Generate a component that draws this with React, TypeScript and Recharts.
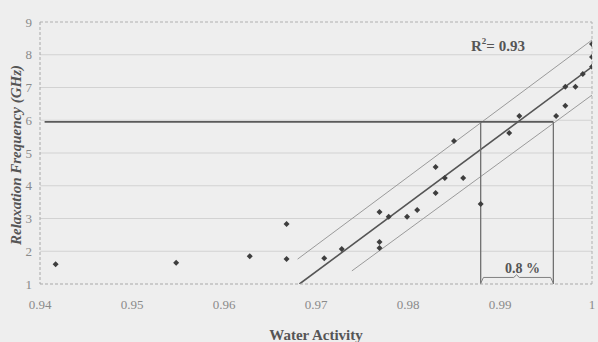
import React from "react";
import {
  ComposedChart,
  Line,
  Scatter,
  XAxis,
  YAxis,
  ReferenceLine,
} from "recharts";

// measured points (water activity vs relaxation frequency in GHz)
const waterActivity = [
  0.9417, 0.9548, 0.9628, 0.9668, 0.9668, 0.9709, 0.9728, 0.9769, 0.9779,
  0.9769, 0.9769, 0.9799, 0.981, 0.983, 0.983, 0.984, 0.986, 0.985, 0.9879,
  0.991, 0.9921, 0.9961, 0.9971, 0.9971, 0.9982, 0.999, 1.0, 1.0, 1.0,
];
const relaxationFreq = [
  1.6, 1.65, 1.85, 2.83, 1.76, 1.79, 2.07, 3.2, 3.05, 2.28, 2.1, 3.05, 3.26,
  3.78, 4.57, 4.24, 4.24, 5.37, 3.44, 5.61, 6.13, 6.13, 6.44, 7.02, 7.02, 7.41,
  7.63, 7.93, 8.33,
];

// regression line and its band
const fitX = [0.9682, 1.0];
const fitY = [1.0, 7.63];
const upperX = [0.968, 1.0];
const upperY = [1.76, 8.45];
const lowerX = [0.9739, 1.0];
const lowerY = [1.4, 6.77];

// 6 GHz threshold and the window it cuts out
const thresholdX = [0.9405, 0.9958];
const thresholdY = [5.95, 5.95];
const windowLeftX = [0.9879, 0.9879];
const windowRightX = [0.9958, 0.9958];
const windowY = [5.95, 1.0];

// brace under the window
const braceX = [0.9879, 0.9882, 0.9915, 0.9918, 0.9921, 0.9955, 0.9958];
const braceY = [1.02, 1.2, 1.2, 1.28, 1.2, 1.2, 1.02];

const xTicks = [0.94, 0.95, 0.96, 0.97, 0.98, 0.99, 1];
const yTicks = [1, 2, 3, 4, 5, 6, 7, 8, 9];
const gridTicks = [2, 3, 4, 5, 6, 7, 8];

const serif = "'Liberation Serif', 'Times New Roman', serif";

const zip = (xs: number[], ys: number[]) => xs.map((x, i) => ({ x, y: ys[i] }));

const points = zip(waterActivity, relaxationFreq);

const Diamond = (props: any) => {
  const { cx, cy } = props;
  if (cx == null || cy == null) return null;
  const r = 3;
  return (
    <polygon
      points={`${cx},${cy - r} ${cx + r},${cy} ${cx},${cy + r} ${cx - r},${cy}`}
      fill="#3e3e3e"
    />
  );
};

const seg = (data: { x: number; y: number }[], stroke: string, w: number, key: string) => (
  <Line
    key={key}
    data={data}
    dataKey="y"
    type="linear"
    dot={false}
    activeDot={false}
    stroke={stroke}
    strokeWidth={w}
    isAnimationActive={false}
    legendType="none"
  />
);

export default function App() {
  return (
    <div
      style={{
        position: "absolute",
        left: 0,
        top: 0,
        width: 598,
        height: 342,
        background: "#eeeeee",
        fontFamily: serif,
      }}
    >
      <ComposedChart
        width={598}
        height={342}
        margin={{ top: 22, right: 6, bottom: 0, left: 0 }}
      >
        <XAxis
          type="number"
          dataKey="x"
          domain={[0.94, 1]}
          ticks={xTicks}
          allowDataOverflow
          height={58}
          tickFormatter={(v: number) => String(v)}
          tick={{ fill: "#8a8a8a", fontSize: 13, fontFamily: serif }}
          tickLine={false}
          tickSize={6}
          tickMargin={10}
          axisLine={{ stroke: "#a8a8a8", strokeDasharray: "3 2" }}
          label={{
            value: "Water Activity",
            position: "insideBottom",
            offset: 2,
            style: { fill: "#555", fontSize: 15, fontWeight: "bold", fontFamily: serif },
          }}
        />
        <YAxis
          type="number"
          dataKey="y"
          domain={[1, 9]}
          ticks={yTicks}
          allowDataOverflow
          width={40}
          tick={{ fill: "#8a8a8a", fontSize: 13, fontFamily: serif }}
          tickLine={false}
          tickSize={6}
          tickMargin={2}
          axisLine={{ stroke: "#a8a8a8", strokeDasharray: "3 2" }}
        />
        {gridTicks.map((t) => (
          <ReferenceLine key={"g" + t} y={t} stroke="#d2d2d2" strokeWidth={1} />
        ))}
        <ReferenceLine y={9} stroke="#b0b0b0" strokeDasharray="3 2" />
        <ReferenceLine x={1} stroke="#b0b0b0" strokeDasharray="3 2" />

        {seg(zip(upperX, upperY), "#9a9a9a", 1, "upper")}
        {seg(zip(lowerX, lowerY), "#9a9a9a", 1, "lower")}
        {seg(zip(fitX, fitY), "#555", 1.6, "fit")}
        {seg(zip(thresholdX, thresholdY), "#5a5a5a", 1.6, "thr")}
        {seg(zip(windowLeftX, windowY), "#707070", 1.3, "wl")}
        {seg(zip(windowRightX, windowY), "#707070", 1.3, "wr")}
        {seg(zip(braceX, braceY), "#808080", 1, "brace")}

        <Scatter data={points} dataKey="y" shape={Diamond} isAnimationActive={false} />
      </ComposedChart>

      <div
        style={{
          position: "absolute",
          left: 16,
          top: 155,
          transform: "translate(-50%, -50%) rotate(-90deg)",
          fontSize: 15,
          fontWeight: "bold",
          fontStyle: "italic",
          color: "#555",
          whiteSpace: "nowrap",
          lineHeight: "18px",
        }}
      >
        Relaxation Frequency (GHz)
      </div>
      <div
        style={{
          position: "absolute",
          left: 471,
          top: 37,
          fontSize: 15,
          fontWeight: "bold",
          color: "#555",
          whiteSpace: "nowrap",
          lineHeight: "18px",
        }}
      >
        R<sup style={{ fontSize: 9, verticalAlign: "7px", lineHeight: 0 }}>2</sup>= 0.93
      </div>
      <div
        style={{
          position: "absolute",
          left: 505,
          top: 260,
          fontSize: 14,
          fontWeight: "bold",
          color: "#555",
          whiteSpace: "nowrap",
          lineHeight: "17px",
        }}
      >
        0.8 %
      </div>
    </div>
  );
}
